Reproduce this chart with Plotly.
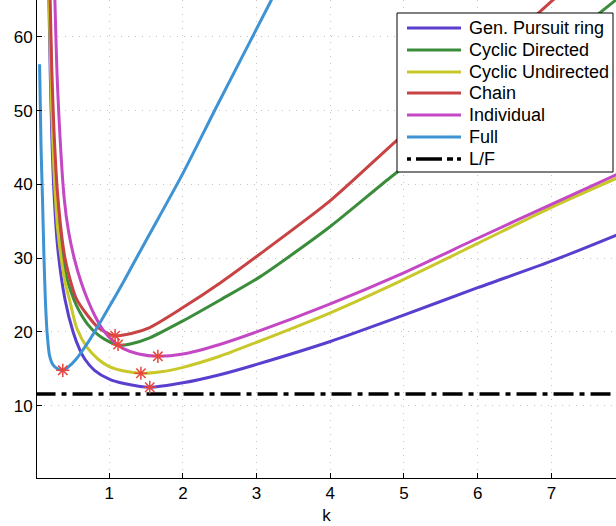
import plotly.graph_objects as go

# ---------------- data ----------------
names = ["Gen. Pursuit ring", "Cyclic Directed", "Cyclic Undirected", "Chain", "Individual", "Full"]
colors = ["#5a3fcf", "#3b8d3b", "#c8c82a", "#c84343", "#c447c4", "#3d93d4"]

gp_k = [0.18, 0.2, 0.22, 0.25, 0.3, 0.4, 0.51, 0.6, 0.67, 0.8, 1.0, 1.2, 1.55, 2.0, 2.5, 3.0, 4.0, 4.95, 6.0, 7.0, 7.9]
gp_v = [66, 55, 47, 39, 31.5, 24.4, 20.0, 17.6, 16.3, 14.8, 13.6, 13.0, 12.5, 13.1, 14.2, 15.6, 18.7, 22.1, 26.0, 29.6, 33.2]

cd_k = [0.185, 0.22, 0.25, 0.3, 0.4, 0.52, 0.6, 0.71, 0.85, 0.94, 1.12, 1.3, 1.55, 2.0, 2.5, 3.05, 4.0, 4.81, 6.0, 7.0, 7.95]
cd_v = [67, 53, 45, 36.5, 28.3, 24.4, 22.7, 21.0, 19.6, 19.0, 18.2, 18.4, 19.2, 21.5, 24.3, 27.5, 34.3, 40.9, 50.2, 58.0, 65.6]

cu_k = [0.185, 0.2, 0.22, 0.25, 0.3, 0.4, 0.46, 0.56, 0.7, 0.85, 1.0, 1.2, 1.43, 1.7, 2.0, 2.5, 3.0, 4.0, 4.95, 6.0, 7.0, 7.9]
cu_v = [66, 58, 50, 42, 34, 26.8, 24.4, 20.5, 17.9, 16.3, 15.3, 14.7, 14.4, 14.6, 15.2, 16.7, 18.6, 22.6, 26.9, 32.0, 36.9, 40.9]

ch_k = [0.19, 0.22, 0.25, 0.3, 0.4, 0.55, 0.71, 0.85, 1.06, 1.3, 1.55, 2.0, 2.5, 3.05, 4.0, 4.85, 6.0, 7.0, 7.3]
ch_v = [68.5, 55.8, 47.4, 38.6, 30.0, 24.6, 22.2, 20.6, 19.5, 19.8, 20.6, 23.3, 26.6, 30.6, 37.8, 45.5, 55.8, 64.8, 67.5]

in_k = [0.26, 0.3, 0.39, 0.45, 0.53, 0.62, 0.71, 0.8, 0.92, 1.05, 1.2, 1.4, 1.66, 2.0, 2.5, 3.0, 4.0, 4.95, 6.0, 7.0, 7.9]
in_v = [66, 53, 38, 33.5, 29.8, 26.7, 24.3, 22.3, 20.2, 18.8, 17.7, 17.0, 16.7, 17.0, 18.3, 20.0, 23.8, 27.8, 32.7, 37.3, 41.4]

fu_k = [0.055, 0.075, 0.095, 0.115, 0.135, 0.16, 0.19, 0.24, 0.3, 0.37, 0.45, 0.55, 0.7, 0.8, 1.0, 1.2, 1.39, 1.55, 2.0, 2.46, 3.18, 3.25]
fu_v = [56.3, 45, 37.9, 30, 24, 19.5, 16.8, 15.5, 15.0, 14.8, 15.3, 16.3, 18.4, 20.0, 23.4, 26.9, 30.4, 33.3, 41.5, 50.6, 64.6, 66.0]

# minimum markers (one per curve)
min_k = [1.55, 1.12, 1.43, 1.08, 1.66, 0.37]
min_v = [12.5, 18.3, 14.4, 19.5, 16.7, 14.8]

lf_value = 11.6
lf_k = [0.0, 8.0]

x_ticks = [1, 2, 3, 4, 5, 6, 7]
y_ticks = [10, 20, 30, 40, 50, 60]

series_k = [gp_k, cd_k, cu_k, ch_k, in_k, fu_k]
series_v = [gp_v, cd_v, cu_v, ch_v, in_v, fu_v]

# ---------------- figure ----------------
W, H = 616, 526
ML, MR, MT, MB = 37, 0, 0, 48
PW, PH = W - ML - MR, H - MT - MB

def px_x(p):
    return (p - ML) / PW

def px_y(p):
    return (H - MB - p) / PH

FONT = "Liberation Sans, Arial, Helvetica, sans-serif"

fig = go.Figure()
for nm, col, ks, vs in zip(names, colors, series_k, series_v):
    fig.add_trace(go.Scatter(x=ks, y=vs, mode="lines", name=nm,
                             line=dict(color=col, width=3, shape="spline", smoothing=0.7),
                             showlegend=False, hoverinfo="skip"))

fig.add_trace(go.Scatter(x=lf_k, y=[lf_value, lf_value], mode="lines", name="L/F",
                         line=dict(color="black", width=3.5, dash="20px,6px,5px,6px"),
                         showlegend=False))

fig.add_trace(go.Scatter(x=min_k, y=min_v, mode="markers", name="minima",
                         marker=dict(symbol="asterisk-open", size=11, color="#e8453c",
                                     line=dict(color="#e8453c", width=1.5)),
                         showlegend=False))

# ---------------- hand-drawn legend (MATLAB style) ----------------
shapes = []
annotations = []
shapes.append(dict(type="rect", xref="paper", yref="paper",
                   x0=px_x(397), x1=px_x(613), y0=px_y(172), y1=px_y(13),
                   line=dict(color="black", width=1), fillcolor="white", layer="above"))
legend_rows = [28, 50, 72, 93, 115, 137, 159]
leg_names = names + ["L/F"]
leg_colors = colors + ["black"]
for i, (nm, col) in enumerate(zip(leg_names, leg_colors)):
    yy = px_y(legend_rows[i])
    if nm == "L/F":
        ln = dict(color=col, width=3.5, dash="4px,5px,26px,5px,6px")
    else:
        ln = dict(color=col, width=3)
    shapes.append(dict(type="line", xref="paper", yref="paper",
                       x0=px_x(407), x1=px_x(461), y0=yy, y1=yy, line=ln, layer="above"))
    annotations.append(dict(text=nm, xref="paper", yref="paper", x=px_x(467), y=yy,
                            xanchor="left", yanchor="middle", showarrow=False,
                            font=dict(family=FONT, size=18, color="black")))

grid_style = dict(showgrid=True, gridcolor="#c4c4c4", griddash="1px,6px", gridwidth=1)

fig.update_layout(
    width=W, height=H,
    margin=dict(l=ML, r=MR, t=MT, b=MB, pad=0),
    paper_bgcolor="white", plot_bgcolor="white",
    showlegend=False,
    font=dict(family=FONT, size=17, color="black"),
    shapes=shapes, annotations=annotations,
    xaxis=dict(range=[0.02, 7.877], tickvals=x_ticks, ticks="inside", ticklen=5,
               tickcolor="black", showline=True, linecolor="black", linewidth=1,
               zeroline=False, tickfont=dict(size=17),
               title=dict(text="k", font=dict(size=17), standoff=6), **grid_style),
    yaxis=dict(range=[0.2, 65.0], tickvals=y_ticks, ticks="inside", ticklen=5,
               tickcolor="black", showline=True, linecolor="black", linewidth=1,
               zeroline=False, tickfont=dict(size=17), **grid_style),
)

fig.write_html("out.html")
